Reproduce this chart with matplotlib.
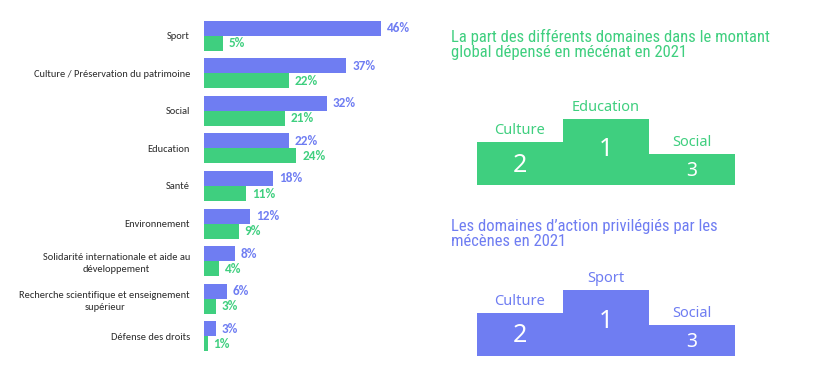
import matplotlib.pyplot as plt
import numpy as np

# data
categories = ["Sport", "Culture / Préservation du patrimoine", "Social", "Education", "Santé",
              "Environnement", "Solidarité internationale et aide au\ndéveloppement",
              "Recherche scientifique et enseignement\nsupérieur", "Défense des droits"]
mecenes = [46, 37, 32, 22, 18, 12, 8, 6, 3]       # blue
montant = [5, 22, 21, 24, 11, 9, 4, 3, 1]         # green

podium_top_labels = ["Culture", "Education", "Social"]
podium_bottom_labels = ["Culture", "Sport", "Social"]
podium_ranks = [2, 1, 3]

title_top = "La part des différents domaines dans le montant\nglobal dépensé en mécénat en 2021"
title_bottom = "Les domaines d\u2019action privilégiés par les\nmécènes en 2021"

blue = "#6F7DF2"
green = "#3FCF7F"
W, H = 820, 374
label_font = ["Carlito", "DejaVu Sans"]
title_font = ["Roboto Condensed", "DejaVu Sans"]

fig = plt.figure(figsize=(8.2, 3.74), dpi=100)
fig.patch.set_facecolor("white")

# ---- bar chart ----
ax = fig.add_axes([204 / W, 1 - 355 / H, 240 / W, (355 - 17) / H])
y = np.arange(len(categories))
bh = 0.4
ax.barh(y - bh / 2, mecenes, height=bh, color=blue)
ax.barh(y + bh / 2, montant, height=bh, color=green)
for i in range(len(categories)):
    ax.text(mecenes[i] + 1.5, y[i] - bh / 2, "%d%%" % mecenes[i], color=blue,
            fontsize=9.5, fontweight="bold", va="center", family=label_font)
    ax.text(montant[i] + 1.5, y[i] + bh / 2, "%d%%" % montant[i], color=green,
            fontsize=9.5, fontweight="bold", va="center", family=label_font)
ax.set_ylim(len(categories) - 0.5, -0.5)
ax.set_xlim(0, 240 / 3.85)
ax.set_yticks(y)
ax.set_yticklabels(categories, fontsize=7.5, color="#2b2b2b", family=label_font,
                   ha="right", multialignment="center", linespacing=1.45)
ax.tick_params(axis="y", length=0, pad=10)
ax.set_xticks([])
for s in ax.spines.values():
    s.set_visible(False)


# ---- podiums ----
def podium(top_px, color, labels, title, title_y):
    pax = fig.add_axes([477 / W, 1 - (top_px + 66) / H, 258 / W, 66 / H])
    step = {1: 66, 2: 43, 3: 31}
    heights = [step[r] for r in podium_ranks]
    pax.bar([0, 1, 2], heights, width=1.0, color=color)
    pax.set_xlim(-0.5, 2.5)
    pax.set_ylim(0, 66)
    pax.axis("off")
    for i, (lab, r) in enumerate(zip(labels, podium_ranks)):
        pax.text(i, heights[i] + 4, lab, ha="center", va="bottom", color=color,
                 fontsize=10.5, family="Noto Sans", clip_on=False)
        num_y = {1: 35, 2: 20, 3: 14}[r]
        pax.text(i, num_y, str(r), ha="center", va="center", color="white",
                 fontsize={1: 18, 2: 18, 3: 14}[r], family="Noto Sans", fontweight="light")
    fig.text(451 / W, 1 - title_y / H, title, color=color, fontsize=12,
             family=title_font, va="top", linespacing=1.0)


podium(119, green, podium_top_labels, title_top, 29)
podium(290, blue, podium_bottom_labels, title_bottom, 219)

fig.savefig("out.png", dpi=100)
